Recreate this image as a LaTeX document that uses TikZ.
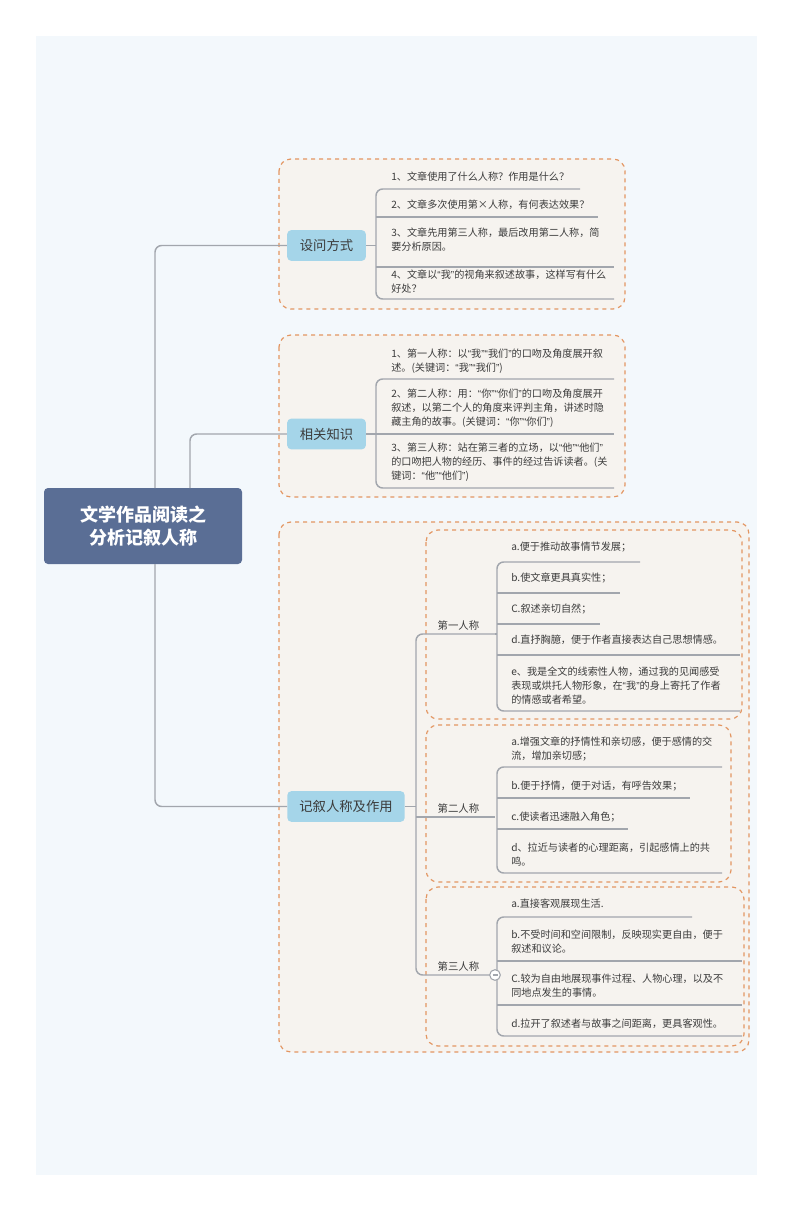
\documentclass[tikz,border=0pt]{standalone}
\usepackage{fontspec}
\setmainfont{Noto Sans CJK SC}
\newfontfamily\latq{Liberation Sans}
\newcommand{\qo}{{\latq “}}
\newcommand{\qc}{{\latq ”}}
\begin{document}
\begin{tikzpicture}[x=0.75pt,y=-0.75pt,
  ln/.style={draw=lineg,line width=1.1pt,rounded corners=5pt},
  grp/.style={draw=orng,dashed,line width=0.9pt,fill=grpf,rounded corners=9pt},
  topic/.style={fill=topicc,rounded corners=3pt,font=\fontsize{10}{12}\selectfont,text=txt,minimum height=23pt,inner sep=0pt},
  leaf/.style={anchor=north west,align=left,font=\fontsize{7.6}{10.5}\selectfont,text=txt,inner sep=0pt},
  sub/.style={anchor=south west,font=\fontsize{7.8}{10}\selectfont,text=txt,inner sep=1pt}]
\definecolor{lineg}{HTML}{A2A6AD}
\definecolor{orng}{HTML}{E39662}
\definecolor{grpf}{HTML}{F6F3EF}
\definecolor{topicc}{HTML}{A5D5E9}
\definecolor{txt}{HTML}{3C3C3C}
\definecolor{rootc}{HTML}{5A6E95}
\definecolor{bg}{HTML}{F3F8FC}
\useasboundingbox (0,0) rectangle (794,1212);
\fill[white] (0,0) rectangle (794,1212);
\fill[bg] (36,36) rectangle (757,1175);
% groups
\draw[grp] (279,159) rectangle (625,309);
\draw[grp] (279,335) rectangle (625,497);
\draw[grp] (279,522) rectangle (749,1052);
\draw[grp] (426,530) rectangle (742,719);
\draw[grp] (426,725) rectangle (731,882);
\draw[grp] (426,887) rectangle (744,1046);
% root
\node[fill=rootc,rounded corners=3pt,minimum width=148.5pt,minimum height=57pt,text=white,align=center,font=\fontsize{13.5}{17.5}\selectfont\bfseries] (root) at (143,526) {文学作品阅读之\\分析记叙人称};
% topics
\node[topic,minimum width=59pt] (t1) at (326.5,245.5) {设问方式};
\node[topic,minimum width=59pt] (t2) at (326.5,434) {相关知识};
\node[topic,minimum width=88pt] (t3) at (346,806.5) {记叙人称及作用};
\draw[ln] (155,488) |- (t1.west);
\draw[ln] (190,488) |- (t2.west);
\draw[ln] (155,564) |- (t3.west);
% topic 1 leaves
\node[leaf] (a1) at (391,172) {1、文章使用了什么人称？作用是什么？};
\node[leaf] (a2) at (391,200) {2、文章多次使用第×人称，有何表达效果？};
\node[leaf] (a3) at (391,228) {3、文章先用第三人称，最后改用第二人称，简\\要分析原因。};
\node[leaf] (a4) at (391,270) {4、文章以\qo 我\qc 的视角来叙述故事，这样写有什么\\好处？};
\draw[ln] (t1.east) -- (376,245.5);
\draw[ln] (580,189) -- (376,189) |- (614,299);
\draw[ln] (376,217) -- (598,217);
\draw[ln] (376,267) -- (614,267);
% topic 2 leaves
\node[leaf] (b1) at (391,349) {1、第一人称：以\qo 我\qc\qo 我们\qc 的口吻及角度展开叙\\述。(关键词：\qo 我\qc\qo 我们\qc)};
\node[leaf] (b2) at (391,389) {2、第二人称：用：\qo 你\qc\qo 你们\qc 的口吻及角度展开\\叙述，以第二个人的角度来评判主角，讲述时隐\\藏主角的故事。(关键词：\qo 你\qc\qo 你们\qc)};
\node[leaf] (b3) at (391,443) {3、第三人称：站在第三者的立场，以\qo 他\qc\qo 他们\qc\\的口吻把人物的经历、事件的经过告诉读者。(关\\键词：\qo 他\qc\qo 他们\qc)};
\draw[ln] (t2.east) -- (376,434);
\draw[ln] (614,379) -- (376,379) |- (614,488);
\draw[ln] (376,434) -- (614,434);
% subtopics
\node[sub] (s1) at (436,632) {第一人称};
\node[sub] (s2) at (436,815) {第二人称};
\node[sub] (s3) at (436,973) {第三人称};
\draw[ln] (t3.east) -- (416,806.5);
\draw[ln] (495,634) -- (416,634) |- (495,975);
\draw[ln] (416,817) -- (495,817);
% first person leaves
\node[leaf] at (511,542) {a.便于推动故事情节发展；};
\node[leaf] at (511,573) {b.使文章更具真实性；};
\node[leaf] at (511,604) {C.叙述亲切自然；};
\node[leaf] at (511,635) {d.直抒胸臆，便于作者直接表达自己思想情感。};
\node[leaf] at (511,667) {e、我是全文的线索性人物，通过我的见闻感受\\表现或烘托人物形象，在\qo 我\qc 的身上寄托了作者\\的情感或者希望。};
\draw[ln] (495,634) -- (497,634);
\draw[ln] (640,562) -- (497,562) |- (740,711);
\draw[ln] (497,593) -- (620,593);
\draw[ln] (497,624) -- (600,624);
\draw[ln] (497,655) -- (740,655);
% second person leaves
\node[leaf] at (511,737) {a.增强文章的抒情性和亲切感，便于感情的交\\流，增加亲切感；};
\node[leaf] at (511,781) {b.便于抒情，便于对话，有呼告效果；};
\node[leaf] at (511,812) {c.使读者迅速融入角色；};
\node[leaf] at (511,843) {d、拉近与读者的心理距离，引起感情上的共\\鸣。};
\draw[ln] (722,767) -- (497,767) |- (722,873);
\draw[ln] (497,798) -- (690,798);
\draw[ln] (497,829) -- (628,829);
% third person leaves
\node[leaf] at (511,899) {a.直接客观展现生活.};
\node[leaf] at (511,930) {b.不受时间和空间限制，反映现实更自由，便于\\叙述和议论。};
\node[leaf] at (511,974) {C.较为自由地展现事件过程、人物心理，以及不\\同地点发生的事情。};
\node[leaf] at (511,1019) {d.拉开了叙述者与故事之间距离，更具客观性。};
\draw[ln] (692,917) -- (497,917) |- (742,1036);
\draw[ln] (497,961) -- (742,961);
\draw[ln] (497,1005) -- (742,1005);
\node[circle,draw=lineg,fill=white,line width=0.8pt,minimum size=8pt,inner sep=0pt] (mn) at (495,975) {};
\draw[lineg,line width=0.8pt] (492.5,975) -- (497.5,975);
\end{tikzpicture}
\end{document}
